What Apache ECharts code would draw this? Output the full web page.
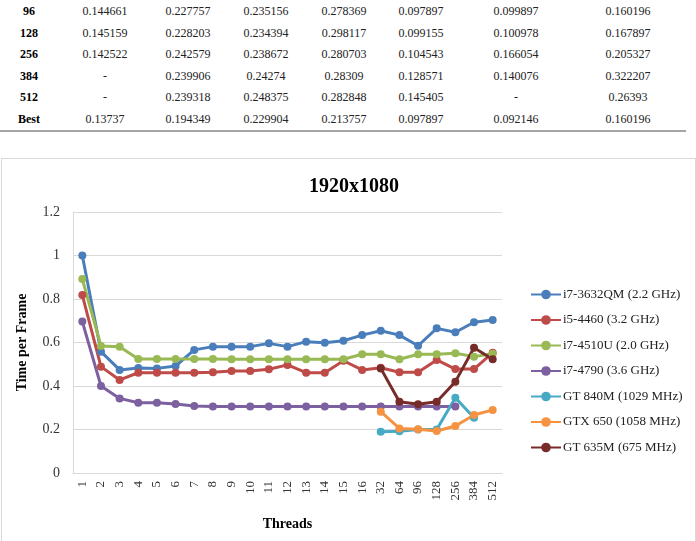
<!DOCTYPE html>
<html>
<head>
<meta charset="utf-8">
<script src="https://cdn.jsdelivr.net/npm/echarts@6/dist/echarts.min.js"></script>
<style>
    body { margin: 0; width: 696px; height: 541px; background: #fff; position: relative; overflow: hidden; font-family: "Liberation Serif", serif; }
    .tbl { position: absolute; left: 0; top: 1px; width: 686px; border-bottom: 2px solid #a6a6a6; }
    .tbl table { border-spacing: 0; width: 100%; }
    .tbl td { font-size: 12px; height: 21.5px; padding: 0; text-align: center; color: #222; }
    .tbl td.lbl { font-weight: bold; color: #000; }
    .box { position: absolute; left: 1px; top: 158px; width: 693px; height: 400px; border: 1px solid #d9d9d9; }
    #chart { position: absolute; left: 0; top: 0; width: 696px; height: 541px; }
</style>
</head>
<body>
<div class="tbl"><table id="tbl"></table></div>
<div class="box"></div>
<div id="chart"></div>
<script>
//表格数据
let rowLabels = ["96", "128", "256", "384", "512", "Best"];
let col1 = ["0.144661", "0.145159", "0.142522", "-", "-", "0.13737"];
let col2 = ["0.227757", "0.228203", "0.242579", "0.239906", "0.239318", "0.194349"];
let col3 = ["0.235156", "0.234394", "0.238672", "0.24274", "0.248375", "0.229904"];
let col4 = ["0.278369", "0.298117", "0.280703", "0.28309", "0.282848", "0.213757"];
let col5 = ["0.097897", "0.099155", "0.104543", "0.128571", "0.145405", "0.097897"];
let col6 = ["0.099897", "0.100978", "0.166054", "0.140076", "-", "0.092146"];
let col7 = ["0.160196", "0.167897", "0.205327", "0.322207", "0.26393", "0.160196"];
let colWidths = [58, 94, 72, 84, 72, 82, 108, 116];

//图表数据
let threads = ["1", "2", "3", "4", "5", "6", "7", "8", "9", "10", "11", "12", "13", "14", "15", "16", "32", "64", "96", "128", "256", "384", "512"];
let i7_3632QM = [1.0, 0.558, 0.474, 0.483, 0.481, 0.492, 0.566, 0.581, 0.581, 0.581, 0.596, 0.581, 0.604, 0.599, 0.608, 0.634, 0.654, 0.634, 0.585, 0.665, 0.647, 0.693, 0.703];
let i5_4460 = [0.818, 0.489, 0.428, 0.461, 0.461, 0.461, 0.461, 0.463, 0.469, 0.469, 0.477, 0.497, 0.461, 0.461, 0.516, 0.474, 0.484, 0.463, 0.463, 0.520, 0.478, 0.478, 0.553];
let i7_4510U = [0.892, 0.584, 0.581, 0.524, 0.524, 0.524, 0.524, 0.524, 0.523, 0.523, 0.523, 0.523, 0.523, 0.523, 0.523, 0.546, 0.546, 0.523, 0.546, 0.546, 0.551, 0.535, 0.548];
let i7_4790 = [0.696, 0.400, 0.343, 0.323, 0.323, 0.317, 0.308, 0.306, 0.306, 0.306, 0.306, 0.306, 0.306, 0.306, 0.306, 0.306, 0.306, 0.306, 0.306, 0.306, 0.306, null, null];
let gt840M = [null, null, null, null, null, null, null, null, null, null, null, null, null, null, null, null, 0.190, 0.192, 0.200, 0.200, 0.346, 0.254, null];
let gtx650 = [null, null, null, null, null, null, null, null, null, null, null, null, null, null, null, null, 0.282, 0.205, 0.201, 0.193, 0.216, 0.267, 0.290];
let gt635M = [null, null, null, null, null, null, null, null, null, null, null, null, null, null, null, null, 0.481, 0.328, 0.316, 0.328, 0.420, 0.576, 0.523];

let seriesNames = ["i7-3632QM (2.2 GHz)", "i5-4460 (3.2 GHz)", "i7-4510U (2.0 GHz)", "i7-4790 (3.6 GHz)", "GT 840M (1029 MHz)", "GTX 650 (1058 MHz)", "GT 635M (675 MHz)"];
let seriesData = [i7_3632QM, i5_4460, i7_4510U, i7_4790, gt840M, gtx650, gt635M];
let colors = ["#4a7ebb", "#be4b48", "#98b954", "#7d60a0", "#46aac5", "#f69240", "#772c2a"];

//生成表格
function createTable() {
    let cols = [rowLabels, col1, col2, col3, col4, col5, col6, col7];
    let html = "";
    rowLabels.forEach((r, i) => {
        html += "<tr>";
        cols.forEach((c, j) => {
            html += `<td class="${j === 0 ? 'lbl' : ''}" style="width:${colWidths[j]}px">${c[i]}</td>`;
        });
        html += "</tr>";
    });
    document.getElementById("tbl").innerHTML = html;
}
createTable();

//生成echart
let font = "Liberation Serif";
let myChart = echarts.init(document.getElementById("chart"));
let option = {
    animation: false,
    color: colors,
    title: {
        text: "1920x1080",
        left: 349,
        top: 172,
        textAlign: "center",
        textStyle: { fontFamily: font, fontSize: 20, fontWeight: "bold", color: "#000" }
    },
    legend: {
        orient: "vertical",
        left: 525,
        top: 283,
        itemWidth: 30,
        itemHeight: 12,
        itemGap: 12.5,
        data: seriesNames,
        textStyle: { fontFamily: font, fontSize: 13, color: "#222", padding: [0, 0, 0, -3] }
    },
    grid: { left: 73, right: 194, top: 212, bottom: 68, containLabel: false },
    xAxis: {
        type: "category",
        data: threads,
        boundaryGap: true,
        name: "Threads",
        nameLocation: "middle",
        nameGap: 44,
        nameTextStyle: { fontFamily: font, fontSize: 14, fontWeight: "bold", color: "#000" },
        axisLine: { lineStyle: { color: "#d9d9d9" } },
        axisTick: { show: false },
        axisLabel: { rotate: 90, interval: 0, margin: 8, fontFamily: font, fontSize: 13, color: "#333" }
    },
    yAxis: {
        type: "value",
        min: 0,
        max: 1.2,
        interval: 0.2,
        name: "Time per Frame",
        nameLocation: "middle",
        nameGap: 44,
        nameTextStyle: { fontFamily: font, fontSize: 14, fontWeight: "bold", color: "#000" },
        axisLine: { show: true, lineStyle: { color: "#d9d9d9" } },
        axisTick: { show: false },
        splitLine: { lineStyle: { color: "#d9d9d9" } },
        axisLabel: { margin: 13, fontFamily: font, fontSize: 14, color: "#333" }
    },
    series: seriesNames.map((n, i) => ({
        name: n,
        type: "line",
        data: seriesData[i],
        symbol: "circle",
        symbolSize: 8,
        connectNulls: false,
        lineStyle: { width: 3 }
    }))
};
myChart.setOption(option);
</script>
</body>
</html>
